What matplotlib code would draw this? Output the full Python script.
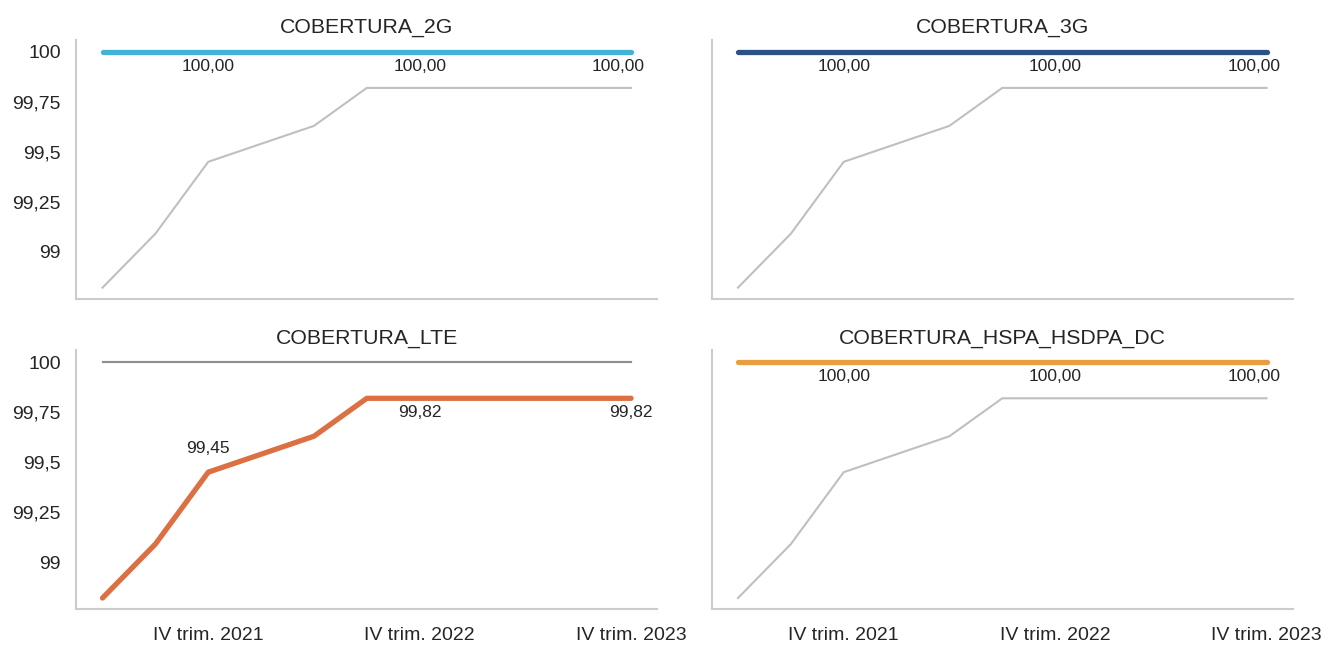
import matplotlib
matplotlib.use("Agg")
import matplotlib.pyplot as plt
from matplotlib.ticker import FuncFormatter, FixedLocator

plt.rcParams['font.family'] = ['Liberation Sans', 'DejaVu Sans']

quarters = ["II trim. 2021", "III trim. 2021", "IV trim. 2021",
            "I trim. 2022", "II trim. 2022", "III trim. 2022", "IV trim. 2022",
            "I trim. 2023", "II trim. 2023", "III trim. 2023", "IV trim. 2023"]

cob_2g = [100.0] * 11
cob_3g = [100.0] * 11
cob_lte = [98.82, 99.09, 99.45, 99.54, 99.63, 99.82, 99.82, 99.82, 99.82, 99.82, 99.82]
cob_hspa = [100.0] * 11

series = {
    "COBERTURA_2G": cob_2g,
    "COBERTURA_3G": cob_3g,
    "COBERTURA_LTE": cob_lte,
    "COBERTURA_HSPA_HSDPA_DC": cob_hspa,
}
colors = {
    "COBERTURA_2G": "#42b2d9",
    "COBERTURA_3G": "#2a5285",
    "COBERTURA_LTE": "#dc7042",
    "COBERTURA_HSPA_HSDPA_DC": "#e99d3f",
}
# which points get a data label, and whether it sits above or below
label_idx = [2, 6, 10]
label_above = {"COBERTURA_LTE": [True, False, False]}


def fmt_tick(v, pos):
    s = f"{v:.2f}".rstrip("0").rstrip(".")
    return s.replace(".", ",")


def main():
    fig, axes = plt.subplots(2, 2, figsize=(13.35, 6.45), dpi=100, sharex=True, sharey=True)
    fig.subplots_adjust(left=0.057, right=0.9685, top=0.938, bottom=0.0558,
                        wspace=0.093, hspace=0.2)
    x = list(range(len(quarters)))

    for ax, name in zip(axes.flat, series):
        # the other series in gray
        for other, vals in series.items():
            if other == name:
                continue
            ax.plot(x, vals, color="#818181", alpha=0.5, lw=1.5, zorder=2)
        vals = series[name]
        ax.plot(x, vals, color=colors[name], lw=3.8, solid_capstyle="round", zorder=3)

        above = label_above.get(name, [False] * len(label_idx))
        for i, up in zip(label_idx, above):
            txt = f"{vals[i]:.2f}".replace(".", ",")
            dx = 0
            if i == len(x) - 1 and len(txt) > 5:
                dx = -9
            ax.annotate(txt, (x[i], vals[i]), xytext=(dx, 12 if up else -5),
                        textcoords="offset points", ha="center",
                        va="bottom" if up else "top", fontsize=12.5, color="#252525")

        ax.set_title(name, fontsize=15.3, color="#252525", pad=5)
        ax.set_xlim(-0.5, 10.5)
        ax.set_ylim(98.765, 100.06)
        ax.yaxis.set_major_locator(FixedLocator([99, 99.25, 99.5, 99.75, 100]))
        ax.yaxis.set_major_formatter(FuncFormatter(fmt_tick))
        ax.set_xticks(label_idx)
        ax.set_xticklabels([quarters[i] for i in label_idx])
        ax.tick_params(length=0, labelsize=14, labelcolor="#252525")
        ax.tick_params(axis="y", pad=11)
        ax.tick_params(axis="x", pad=13)
        for s in ["top", "right"]:
            ax.spines[s].set_visible(False)
        for s in ["left", "bottom"]:
            ax.spines[s].set_color("#cccccc")
            ax.spines[s].set_linewidth(1.5)

    fig.savefig("out.png", dpi=100, facecolor="white")


if __name__ == "__main__":
    main()
